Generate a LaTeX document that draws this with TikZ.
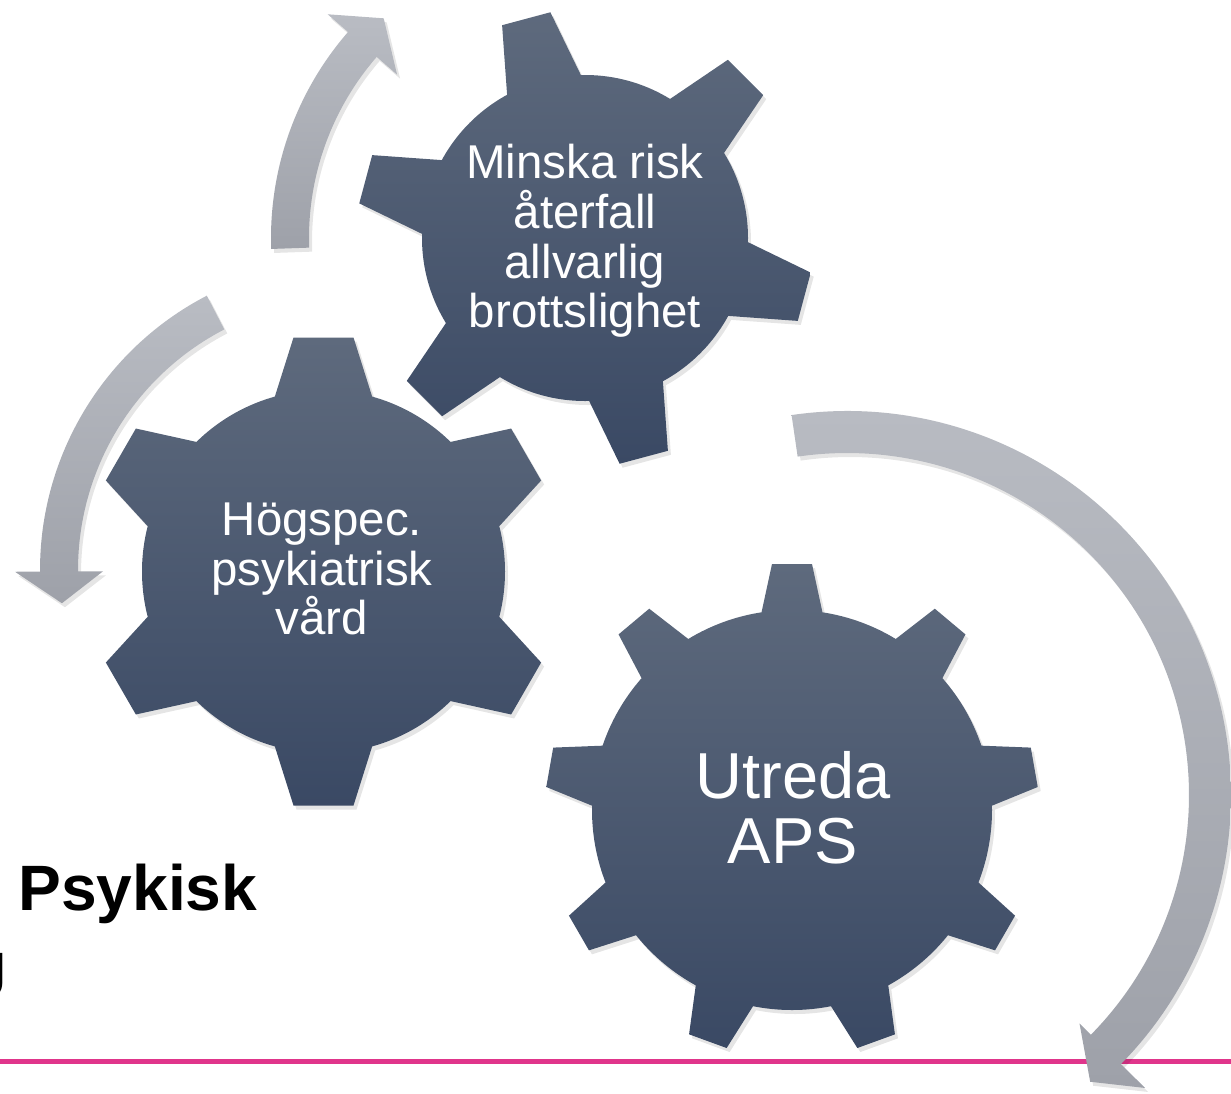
\documentclass[tikz,border=0pt]{standalone}
\usepackage{fontspec}
\setmainfont{Liberation Sans}
\usetikzlibrary{calc}
\definecolor{gearTop}{HTML}{5E6A7D}
\definecolor{gearBot}{HTML}{3A4964}
\definecolor{arrowTop}{HTML}{B9BCC3}
\definecolor{arrowBot}{HTML}{9EA1A9}
\definecolor{linePink}{HTML}{E0358B}
\tikzstyle{gear}=[top color=gearTop,bottom color=gearBot]
\tikzstyle{arrowbody}=[top color=arrowTop,bottom color=arrowBot]
\tikzstyle{softshadow}=[fill=black,opacity=0.10,transform canvas={shift={(3,4)}}]

% gear: centre, body r, tip r, base half width, tip half width, tooth angles
\newcommand{\gearpath}[6]{%
  (#1) circle (#2)
  \foreach \a in {#6} {
    ($(#1)+(\a:#2-14)+(\a-90:#4)$) -- ($(#1)+(\a:#3)+(\a-90:#5)$) --
    ($(#1)+(\a:#3)+(\a+90:#5)$) -- ($(#1)+(\a:#2-14)+(\a+90:#4)$) -- cycle
  }}
% curved arrow: centre, outer r, inner r, start, head base, head outer, head inner, tip angle, tip r
\newcommand{\arcarrow}[9]{%
  ($(#1)+(#4:#2)$) arc[start angle=#4,end angle=#5,radius=#2]
  -- ($(#1)+(#5:#6)$) -- ($(#1)+(#8:#9)$) -- ($(#1)+(#5:#7)$)
  -- ($(#1)+(#5:#3)$) arc[start angle=#5,end angle=#4,radius=#3] -- cycle}

\begin{document}
\begin{tikzpicture}[x=0.02cm,y=-0.02cm]
    \tikzstyle{geartext}=[text=white,align=center,inner sep=0pt,font=\fontsize{27}{28.35}\selectfont]
    \tikzstyle{bigtext}=[text=white,align=center,inner sep=0pt,font=\fontsize{37}{36.9}\selectfont]
    \tikzstyle{boldtext}=[inner sep=0pt,font=\bfseries\fontsize{36.5}{44}\selectfont]
    \useasboundingbox (0,0) rectangle (1231,1093);
    \coordinate (G1) at (585,238);
    \coordinate (G2) at (323.5,571.5);
    \coordinate (G3) at (792,810);
    \coordinate (AB) at (349,570);
    \coordinate (AC) at (847,795);
    \coordinate (L1) at (0,1061.5);
    \coordinate (L2) at (1231,1061.5);
    \draw[linePink,line width=2.3pt] (L1) -- (L2);
    % arrows
    \path[softshadow] \arcarrow{G1}{314}{276}{178}{221}{341}{249}{227.5}{298};
    \path[arrowbody] \arcarrow{G1}{314}{276}{178}{221}{341}{249}{227.5}{298};
    \path[softshadow] \arcarrow{AB}{309}{271}{242.6}{179.7}{334}{246}{173.4}{289};
    \path[arrowbody] \arcarrow{AB}{309}{271}{242.6}{179.7}{334}{246}{173.4}{289};
    \path[softshadow] \arcarrow{AC}{384}{342}{-98.3}{44.5}{418}{326}{49.7}{376};
    \path[arrowbody] \arcarrow{AC}{384}{342}{-98.3}{44.5}{418}{326}{49.7}{376};
    % gears
    \path[softshadow] \gearpath{G1}{163}{227}{40}{25}{-105,-45,15,75,135,195};
    \path[gear] \gearpath{G1}{163}{227}{40}{25}{-105,-45,15,75,135,195};
    \path[softshadow] \gearpath{G2}{181.5}{234}{51}{30}{-90,-30,30,90,150,210};
    \path[gear] \gearpath{G2}{181.5}{234}{51}{30}{-90,-30,30,90,150,210};
    \path[softshadow] \gearpath{G3}{200}{246}{33}{20}{-90,-50,-10,30,70,110,150,190,230};
    \path[gear] \gearpath{G3}{200}{246}{33}{20}{-90,-50,-10,30,70,110,150,190,230};
    % labels
    \node[geartext] (T1) at (585,241) {Minska risk\\återfall\\allvarlig\\brottslighet};
    \node[geartext] (T2) at (322,569) {Högspec.\\psykiatrisk\\vård};
    \node[bigtext] (T3) at (793,808) {Utreda\\APS};
    \node[boldtext,anchor=base west] (PS) at (18,910) {Psykisk};
    \node[boldtext,anchor=base east] (CJ) at (8,997) {J};
\end{tikzpicture}
\end{document}
